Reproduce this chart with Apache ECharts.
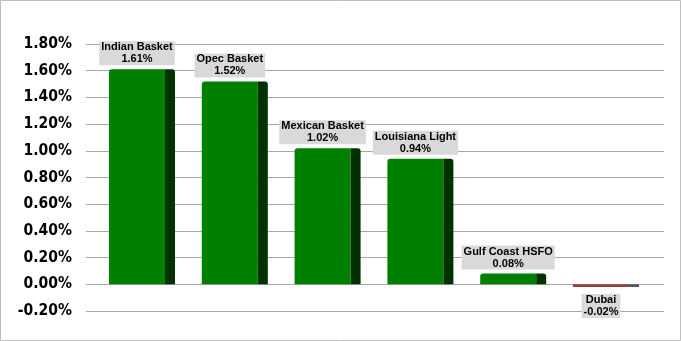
<!DOCTYPE html>
<html>
<head>
<meta charset="utf-8">
<script src="https://cdn.jsdelivr.net/npm/echarts@6/dist/echarts.min.js"></script>
<style>
html,body{margin:0;padding:0;background:#fff;}
#c{width:681px;height:341px;}
</style>
</head>
<body>
<div id="c"></div>
<script>
var categories = ['Indian Basket', 'Opec Basket', 'Mexican Basket', 'Louisiana Light', 'Gulf Coast HSFO', 'Dubai'];
var values = [1.61, 1.52, 1.02, 0.94, 0.08, -0.02];
var yTicks = { min: -0.2, max: 1.8, interval: 0.2 };

var chart = echarts.init(document.getElementById('c'), null, { renderer: 'canvas' });

var frontData = values.map(function (v, i) {
  var neg = v < 0;
  return {
    value: v,
    itemStyle: {
      color: neg ? '#9E3B3B' : '#008000',
      borderRadius: neg ? 0 : [3, 0, 0, 0]
    },
    label: {
      position: neg ? 'bottom' : 'top',
      distance: neg ? 7 : 4
    }
  };
});
var sideData = values.map(function (v) {
  var neg = v < 0;
  return {
    value: v,
    itemStyle: {
      color: neg ? '#555555' : '#003200',
      borderRadius: neg ? 0 : [0, 3, 0, 0]
    }
  };
});

chart.setOption({
  animation: false,
  backgroundColor: '#ffffff',
  graphic: [{
    type: 'rect',
    shape: { x: 0.5, y: 0.5, width: 680, height: 340 },
    style: { fill: 'none', stroke: '#bfbfbf', lineWidth: 1 },
    silent: true
  }],
  grid: [
    { left: 86, right: 17, top: 44, bottom: 30 },
    { left: 95.6, right: 28.6, top: 44, bottom: 30 }
  ],
  xAxis: [
    { type: 'category', gridIndex: 0, data: categories, show: false },
    { type: 'category', gridIndex: 1, data: categories, show: false }
  ],
  yAxis: [
    {
      type: 'value', gridIndex: 0,
      min: yTicks.min, max: yTicks.max, interval: yTicks.interval,
      axisLine: { show: false }, axisTick: { show: false },
      splitLine: { lineStyle: { color: '#a6a6a6', width: 1 } },
      axisLabel: {
        margin: 14,
        color: '#000',
        fontFamily: '"DejaVu Sans Condensed", "DejaVu Sans"',
        fontWeight: 'bold',
        fontSize: 15.5,
        formatter: function (v) { return v.toFixed(2) + '%'; }
      }
    },
    {
      type: 'value', gridIndex: 1,
      min: yTicks.min, max: yTicks.max, interval: yTicks.interval,
      show: false, splitLine: { show: false }
    }
  ],
  series: [
    {
      type: 'bar',
      xAxisIndex: 1, yAxisIndex: 1,
      barWidth: 56,
      barGap: '0%',
      data: frontData,
      label: {
        show: true,
        formatter: function (p) { return p.name + '\n' + p.value.toFixed(2) + '%'; },
        fontFamily: 'Liberation Sans',
        fontWeight: 'bold',
        fontSize: 11,
        lineHeight: 12,
        color: '#000',
        backgroundColor: '#d9d9d9',
        padding: [0, 2, 0, 2],
        align: 'center'
      }
    },
    {
      type: 'bar',
      xAxisIndex: 1, yAxisIndex: 1,
      barWidth: 10,
      barGap: '0%',
      data: sideData
    }
  ]
});
</script>
</body>
</html>
